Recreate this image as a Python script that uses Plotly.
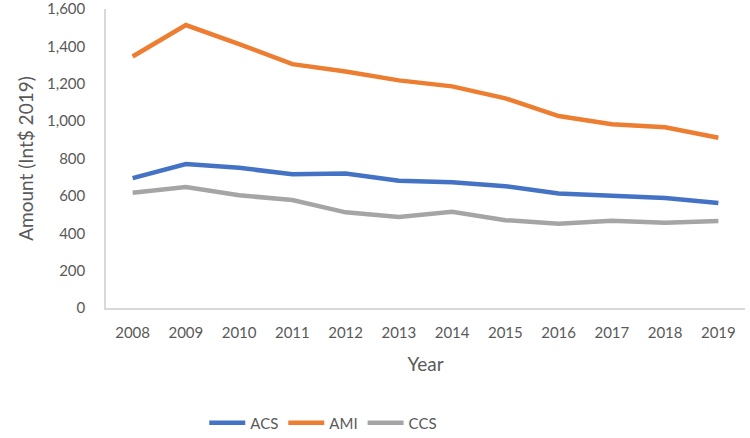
import plotly.graph_objects as go

years = ["2008", "2009", "2010", "2011", "2012", "2013", "2014", "2015", "2016", "2017", "2018", "2019"]
acs = [695, 770, 750, 716, 720, 681, 673, 652, 613, 601, 589, 562]
ami = [1346, 1514, 1412, 1305, 1266, 1218, 1186, 1122, 1027, 983, 967, 911]
ccs = [617, 647, 603, 578, 512, 487, 515, 470, 451, 467, 456, 466]

series = [("ACS", acs, "#4472C4"), ("AMI", ami, "#ED7D31"), ("CCS", ccs, "#A5A5A5")]

fig = go.Figure()
for name, vals, col in series:
    fig.add_trace(go.Scatter(x=years, y=vals, name=name, mode="lines",
                             line=dict(color=col, width=4.5)))

font = dict(family="Lato, Open Sans, sans-serif", size=15, color="#595959")
fig.update_layout(
    width=750, height=438,
    margin=dict(l=106, r=5, t=9, b=130, autoexpand=False),
    paper_bgcolor="white", plot_bgcolor="white",
    font=font,
    showlegend=True,
    legend=dict(orientation="h", x=0.34, xanchor="center", y=-0.385, yanchor="middle",
                font=dict(family="Lato, Open Sans, sans-serif", size=15, color="#595959"),
                itemwidth=36, tracegroupgap=0),
    xaxis=dict(type="category", range=[-0.5, 11.5], showline=True, linecolor="#D9D9D9",
               linewidth=1.5, showgrid=False, zeroline=False, ticks="", automargin=False,
               ticklabelstandoff=10,
               title=dict(text="Year", standoff=18, font=dict(size=19))),
    yaxis=dict(range=[0, 1600], dtick=200, tickformat=",", showline=True,
               linecolor="#D9D9D9", linewidth=1.5, showgrid=False, zeroline=False,
               ticks="", ticklabelstandoff=16, automargin=False,
               ticklabeloverflow="allow",
               title=dict(text="Amount (Int$ 2019)", standoff=8, font=dict(size=19))),
)

fig.write_html("out.html", config={"displayModeBar": False},
               post_script="document.body.style.margin='0';document.body.style.padding='0';")
